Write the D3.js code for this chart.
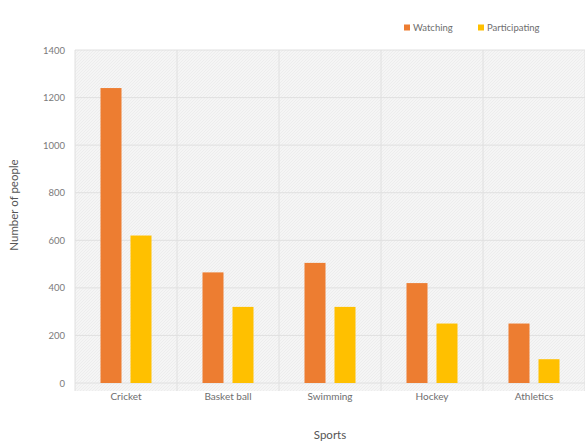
<!DOCTYPE html>
<html>
<head>
<meta charset="utf-8">
<script src="https://cdn.jsdelivr.net/npm/d3@7"></script>
<style>
  html, body { margin: 0; padding: 0; background: #fff; }
  svg { display: block; }
  text { font-family: "Lato", "Open Sans", sans-serif; }
</style>
</head>
<body>
<svg id="chart" width="585" height="443"></svg>
<script>
const categories = ["Cricket", "Basket ball", "Swimming", "Hockey", "Athletics"];
const seriesNames = ["Watching", "Participating"];
const watching = [1240, 465, 505, 420, 250];
const participating = [620, 320, 320, 250, 100];
const yTicks = [0, 200, 400, 600, 800, 1000, 1200, 1400];
const colors = ["#ED7D31", "#FFC000"];

const svg = d3.select("#chart");
const margin = { left: 75, right: 0, top: 50, bottom: 60 };
const W = 585, H = 443;
const plotBottom = 383;

const x = d3.scaleBand().domain(categories).range([margin.left, W - margin.right]).paddingInner(0).paddingOuter(0);
const y = d3.scaleLinear().domain([0, 1400]).range([plotBottom, margin.top]);
const xs = d3.scaleBand().domain(seriesNames).range([0, 51]).paddingInner(0.3);

// hatch pattern
const defs = svg.append("defs");
const pat = defs.append("pattern").attr("id", "hatch").attr("width", 3).attr("height", 3)
  .attr("patternUnits", "userSpaceOnUse");
pat.append("rect").attr("width", 3).attr("height", 3).attr("fill", "#f5f5f5");
pat.append("path").attr("d", "M0,3 L3,0").attr("stroke", "#ebebeb").attr("stroke-width", 0.8);

svg.append("rect").attr("x", margin.left).attr("y", margin.top)
  .attr("width", W - margin.right - margin.left).attr("height", 391 - margin.top)
  .attr("fill", "url(#hatch)");

// horizontal gridlines
svg.append("g").selectAll("line").data(yTicks).join("line")
  .attr("x1", margin.left).attr("x2", W - margin.right)
  .attr("y1", d => y(d)).attr("y2", d => y(d))
  .attr("stroke", "#e0e0e0").attr("stroke-width", 1);

// vertical gridlines
const vlines = categories.map(c => x(c)).concat([x(categories[categories.length - 1]) + x.bandwidth()]);
svg.append("g").selectAll("line").data(vlines).join("line")
  .attr("x1", d => d).attr("x2", d => d)
  .attr("y1", margin.top).attr("y2", 391)
  .attr("stroke", "#e0e0e0").attr("stroke-width", 1);

// y axis labels
const yAxis = d3.axisLeft(y).tickValues(yTicks).tickFormat(d3.format("d")).tickSize(0).tickPadding(10);
const gy = svg.append("g").attr("transform", `translate(${margin.left},0)`).call(yAxis);
gy.select(".domain").remove();
gy.selectAll("text").attr("fill", "#7a7a7a").attr("font-size", 9.5);

// x axis labels
const xAxis = d3.axisBottom(x).tickSize(0).tickPadding(10);
const gx = svg.append("g").attr("transform", `translate(0,${plotBottom})`).call(xAxis);
gx.select(".domain").remove();
gx.selectAll("text").attr("fill", "#6e6e6e").attr("font-size", 10);

// bars
const data = categories.map((c, i) => ({ cat: c, vals: [watching[i], participating[i]] }));
const groups = svg.append("g").selectAll("g").data(data).join("g")
  .attr("transform", d => `translate(${x(d.cat) + x.bandwidth() / 2 - 25.5},0)`);
groups.selectAll("rect").data(d => d.vals.map((v, j) => ({ s: seriesNames[j], v, j }))).join("rect")
  .attr("x", d => xs(d.s)).attr("width", xs.bandwidth())
  .attr("y", d => y(d.v)).attr("height", d => plotBottom - y(d.v))
  .attr("fill", d => colors[d.j]);

// axis titles
svg.append("text").attr("transform", "translate(18,205) rotate(-90)")
  .attr("text-anchor", "middle").attr("font-size", 11.5).attr("fill", "#555")
  .text("Number of people");
svg.append("text").attr("x", 330).attr("y", 439)
  .attr("text-anchor", "middle").attr("font-size", 11.5).attr("fill", "#555")
  .text("Sports");

// legend
const legendX = [404, 478];
const lg = svg.append("g").selectAll("g").data(seriesNames).join("g")
  .attr("transform", (d, i) => `translate(${legendX[i]},28)`);
lg.append("rect").attr("x", 0).attr("y", -3.5).attr("width", 6).attr("height", 6)
  .attr("fill", (d, i) => colors[i]);
lg.append("text").attr("x", 9).attr("y", 0).attr("dy", "0.35em")
  .attr("font-size", 9.5).attr("fill", "#6e6e6e").text(d => d);
</script>
</body>
</html>
